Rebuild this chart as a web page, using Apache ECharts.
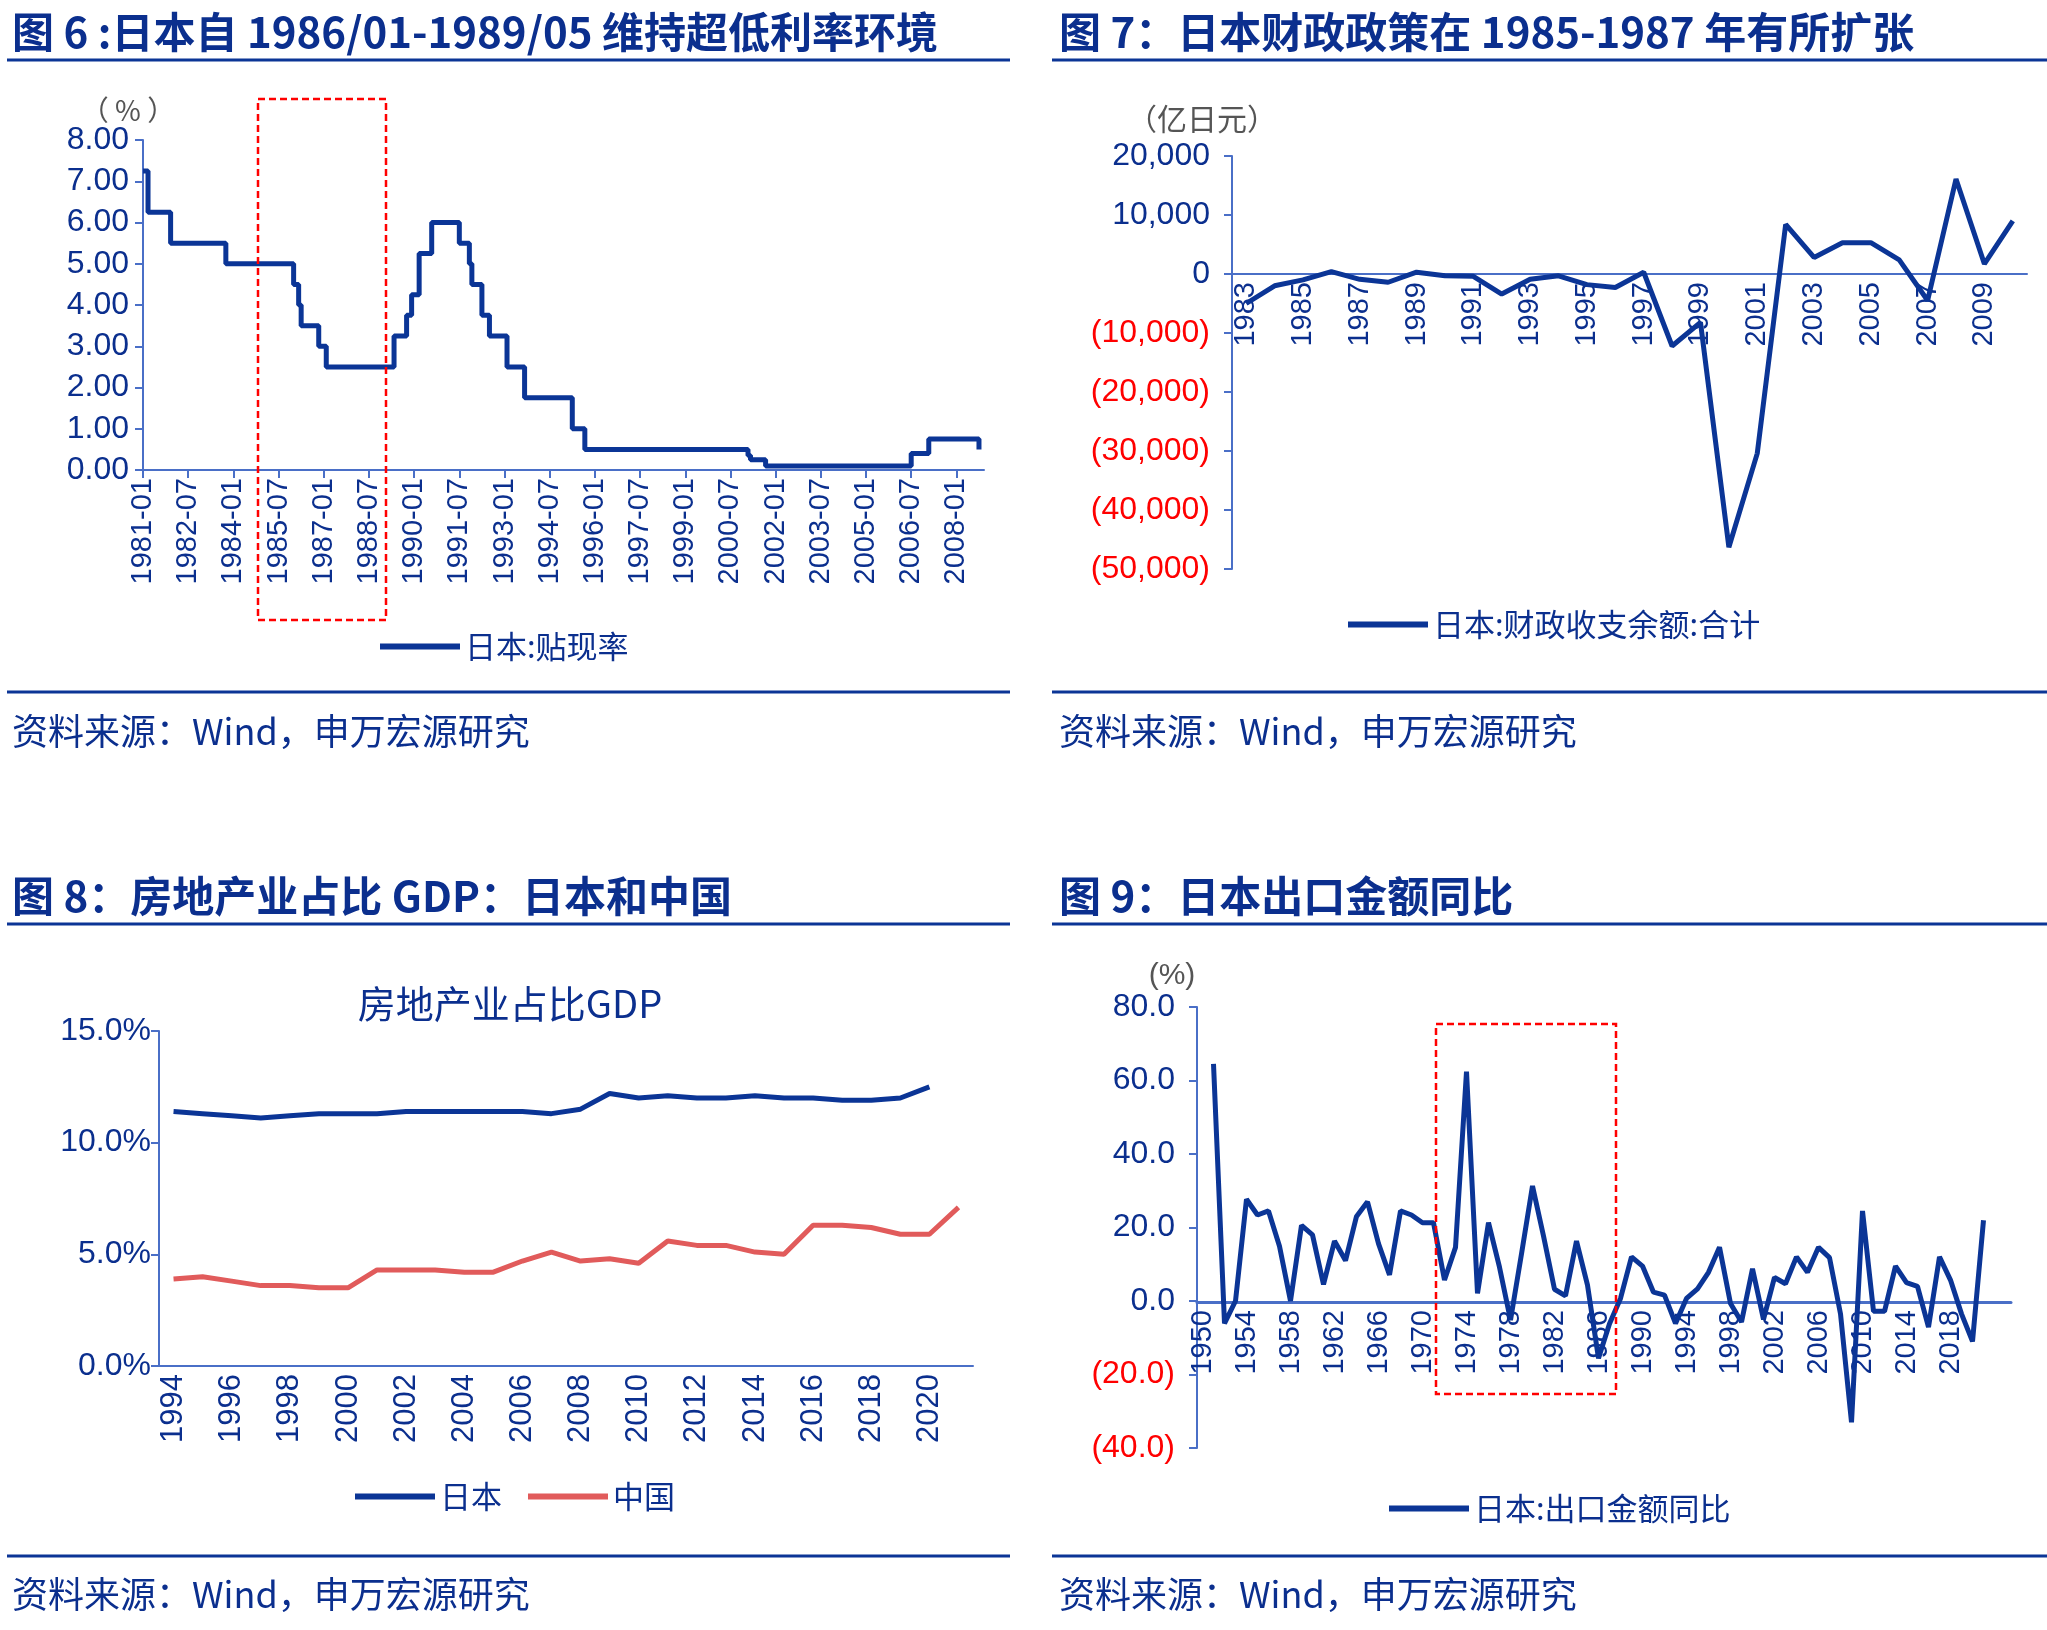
<!DOCTYPE html>
<html>
<head>
<meta charset="utf-8">
<script src="https://cdn.jsdelivr.net/npm/echarts@6/dist/echarts.min.js"></script>
<style>
  html, body { margin: 0; padding: 0; background: #fff; }
  #main { width: 2047px; height: 1630px; }
</style>
</head>
<body>
<div id="main"></div>
<script>
// 图6 贴现率（变动点）
var rateDates = ["1981-01","1981-03","1981-12","1983-10","1986-01","1986-03","1986-04","1986-11","1987-02",
  "1989-05","1989-10","1989-12","1990-03","1990-08","1991-07","1991-11","1991-12","1992-04","1992-07",
  "1993-02","1993-09","1995-04","1995-09","2001-02","2001-03","2001-09","2006-07","2007-02","2008-10"];
var rateVals = [7.25,6.25,5.5,5.0,4.5,4.0,3.5,3.0,2.5,3.25,3.75,4.25,5.25,6.0,5.5,5.0,4.5,3.75,3.25,
  2.5,1.75,1.0,0.5,0.35,0.25,0.1,0.4,0.75,0.5];

// 图7 财政收支余额
var fiscalYears = ["1983","1984","1985","1986","1987","1988","1989","1990","1991","1992","1993","1994","1995","1996",
  "1997","1998","1999","2000","2001","2002","2003","2004","2005","2006","2007","2008","2009","2010"];
var fiscalVals = [-5000,-2000,-1000,400,-900,-1400,300,-300,-400,-3400,-900,-300,-1800,-2300,
  300,-12200,-8200,-46300,-30400,8400,2800,5300,5300,2400,-4500,16100,1700,9000];

// 图8 房地产业占比GDP
var gdpYears = [];
for (var y = 1994; y <= 2021; y++) gdpYears.push(String(y));
var japanShare = [11.4,11.3,11.2,11.1,11.2,11.3,11.3,11.3,11.4,11.4,11.4,11.4,11.4,11.3,11.5,12.2,12.0,12.1,12.0,12.0,12.1,12.0,12.0,11.9,11.9,12.0,12.5,null];
var chinaShare = [3.9,4.0,3.8,3.6,3.6,3.5,3.5,4.3,4.3,4.3,4.2,4.2,4.7,5.1,4.7,4.8,4.6,5.6,5.4,5.4,5.1,5.0,6.3,6.3,6.2,5.9,5.9,7.1];

// 图9 出口金额同比
var exportYears = [];
for (var y2 = 1950; y2 <= 2023; y2++) exportYears.push(String(y2));
var exportVals = [null,64.5,-6.1,0,27.7,23.4,24.5,14.9,0,20.6,18,4.5,16.3,11,23,27,15.6,7.1,24.5,23.4,21.3,21.3,5.7,14.6,62.4,
  2.1,21.3,9.2,-5.2,12.8,31.3,17.7,3.2,1.4,16.3,4.3,-15.6,-6.2,0.7,12,9.5,2.4,1.6,-6.1,0.7,3.3,7.8,14.6,-0.7,-5.7,8.8,-5,
  6.4,4.7,12,7.8,14.6,11.8,-3.5,-33,24.5,-2.8,-2.8,9.5,5,4,-7.1,12,5.7,-3.5,-11,22,null,null];

var months = [];
for (var yy = 1981; yy <= 2008; yy++) {
  for (var m = 1; m <= 12; m++) {
    var s = yy + "-" + (m < 10 ? "0" + m : m);
    months.push(s);
    if (s === "2008-12") break;
  }
}

var DARK = "#0b2f8e";
var AXIS = "#4a6fc7";
var NUM = "'Liberation Sans', Arial, sans-serif";
var NARROW = "'Liberation Sans Narrow', 'Liberation Sans', Arial, sans-serif";
var CJK = "'Noto Sans CJK SC', sans-serif";

function paren(v, dec) {
  var t = Math.abs(v).toFixed(dec).replace(/\B(?=(\d{3})+(?!\d))/g, ",");
  return v < 0 ? "{neg|(" + t + ")}" : t;
}

var legendBase = { itemWidth: 80, itemHeight: 6, icon: "rect", textStyle: { fontSize: 31, color: DARK, fontFamily: CJK } };
function legendAt(names, left, top, gap) {
  return Object.assign({ data: names, left: left, top: top, itemGap: gap || 10 }, legendBase);
}

var chart = echarts.init(document.getElementById("main"));
var option = {
  backgroundColor: "#fff",
  animation: false,
  textStyle: { fontFamily: NUM },
  grid: [
    { left: 143, top: 140, right: 1063, bottom: 1160 },
    { left: 1232, top: 156, right: 20, bottom: 1061 },
    { left: 159, top: 1031, right: 1074, bottom: 264 },
    { left: 1197, top: 1007, right: 36, bottom: 182 }
  ],
  xAxis: [
    {
      gridIndex: 0, type: "category", data: months, boundaryGap: false,
      axisLine: { lineStyle: { color: AXIS, width: 2 } },
      axisTick: { interval: 17, length: 8, lineStyle: { color: AXIS, width: 2 } },
      axisLabel: { interval: 17, rotate: 90, fontSize: 29, color: DARK, fontFamily: NUM }
    },
    {
      gridIndex: 1, type: "category", data: fiscalYears, offset: -295,
      axisLine: { onZero: false, lineStyle: { color: AXIS, width: 2 } },
      axisTick: { interval: 1, length: 8, lineStyle: { color: AXIS, width: 2 } },
      axisLabel: { interval: 1, rotate: 90, fontSize: 29, color: DARK, fontFamily: NUM }
    },
    {
      gridIndex: 2, type: "category", data: gdpYears,
      axisLine: { lineStyle: { color: AXIS, width: 2 } },
      axisTick: { interval: 1, length: 8, lineStyle: { color: AXIS, width: 2 } },
      axisLabel: { interval: 1, rotate: 90, fontSize: 31, color: DARK, fontFamily: NUM }
    },
    {
      gridIndex: 3, type: "category", data: exportYears, offset: -146,
      axisLine: { onZero: false, lineStyle: { color: AXIS, width: 3 } },
      axisTick: { interval: 0, length: 7, lineStyle: { color: AXIS, width: 2 } },
      axisLabel: {
        rotate: 90, fontSize: 29, color: DARK, fontFamily: NUM,
        interval: function (i, v) { return i % 4 === 0 && +v <= 2018; }
      }
    }
  ],
  yAxis: [
    {
      gridIndex: 0, type: "value", min: 0, max: 8, interval: 1,
      name: "（ % ）", nameGap: 14, nameTextStyle: { color: "#555", fontSize: 28, fontFamily: CJK, align: "center", padding: [0, 30, 0, 0] },
      axisLine: { show: true, lineStyle: { color: AXIS, width: 2 } },
      axisTick: { show: true, inside: false, length: 8, lineStyle: { color: AXIS, width: 2 } },
      splitLine: { show: false },
      axisLabel: { fontSize: 32, margin: 14, color: DARK, fontFamily: NARROW, formatter: function (v) { return v.toFixed(2); } }
    },
    {
      gridIndex: 1, type: "value", min: -50000, max: 20000, interval: 10000,
      name: "（亿日元）", nameGap: 22, nameTextStyle: { color: "#555", fontSize: 30, fontFamily: CJK, align: "center", padding: [0, 60, 0, 0] },
      axisLine: { show: true, onZero: false, lineStyle: { color: AXIS, width: 2 } },
      axisTick: { show: true, length: 8, lineStyle: { color: AXIS, width: 2 } },
      splitLine: { show: false },
      axisLabel: {
        fontSize: 32, color: DARK, fontFamily: NARROW, margin: 22,
        formatter: function (v) { return paren(v, 0); },
        rich: { neg: { color: "#ff0000", fontSize: 32, fontFamily: NARROW } }
      }
    },
    {
      gridIndex: 2, type: "value", min: 0, max: 15, interval: 5,
      axisLine: { show: true, lineStyle: { color: AXIS, width: 2 } },
      axisTick: { show: true, length: 8, lineStyle: { color: AXIS, width: 2 } },
      splitLine: { show: false },
      axisLabel: { fontSize: 32, color: DARK, fontFamily: NARROW, formatter: function (v) { return v.toFixed(1) + "%"; } }
    },
    {
      gridIndex: 3, type: "value", min: -40, max: 80, interval: 20,
      name: "(%)", nameGap: 16, nameTextStyle: { color: "#555", fontSize: 30, fontFamily: NARROW, align: "center", padding: [0, 50, 0, 0] },
      axisLine: { show: true, onZero: false, lineStyle: { color: AXIS, width: 2 } },
      axisTick: { show: true, length: 8, lineStyle: { color: AXIS, width: 2 } },
      splitLine: { show: false },
      axisLabel: {
        fontSize: 32, color: DARK, fontFamily: NARROW, margin: 22,
        formatter: function (v) { return paren(v, 1); },
        rich: { neg: { color: "#ff0000", fontSize: 32, fontFamily: NARROW } }
      }
    }
  ],
  legend: [
    legendAt(["日本:贴现率"], 375, 626),
    legendAt(["日本:财政收支余额:合计"], 1343, 604),
    legendAt(["日本", "中国"], 350, 1476, 26),
    legendAt(["日本:出口金额同比"], 1384, 1488)
  ],
  series: [
    {
      name: "日本:贴现率", type: "line", xAxisIndex: 0, yAxisIndex: 0, step: "end", symbol: "none",
      lineStyle: { color: "#0b3596", width: 5 }, itemStyle: { color: "#0b3596" },
      data: rateDates.map(function (d, i) { return [d, rateVals[i]]; })
    },
    {
      name: "日本:财政收支余额:合计", type: "line", xAxisIndex: 1, yAxisIndex: 1, symbol: "none",
      lineStyle: { color: "#0b3596", width: 5 }, itemStyle: { color: "#0b3596" }, data: fiscalVals
    },
    {
      name: "日本", type: "line", xAxisIndex: 2, yAxisIndex: 2, symbol: "none",
      lineStyle: { color: "#0b3596", width: 5 }, itemStyle: { color: "#0b3596" }, data: japanShare
    },
    {
      name: "中国", type: "line", xAxisIndex: 2, yAxisIndex: 2, symbol: "none",
      lineStyle: { color: "#e15b5b", width: 5 }, itemStyle: { color: "#e15b5b" }, data: chinaShare
    },
    {
      name: "日本:出口金额同比", type: "line", xAxisIndex: 3, yAxisIndex: 3, symbol: "none",
      lineStyle: { color: "#0b3596", width: 5 }, itemStyle: { color: "#0b3596" }, data: exportVals
    }
  ],
  title: [
    { text: "图 6 :日本自 1986/01-1989/05 维持超低利率环境", left: 7, top: 6, textStyle: { fontSize: 42, fontWeight: "bold", color: DARK, fontFamily: CJK } },
    { text: "图 7：日本财政政策在 1985-1987 年有所扩张", left: 1054, top: 6, textStyle: { fontSize: 42, fontWeight: "bold", color: DARK, fontFamily: CJK } },
    { text: "图 8：房地产业占比 GDP：日本和中国", left: 7, top: 870, textStyle: { fontSize: 42, fontWeight: "bold", color: DARK, fontFamily: CJK } },
    { text: "图 9：日本出口金额同比", left: 1054, top: 870, textStyle: { fontSize: 42, fontWeight: "bold", color: DARK, fontFamily: CJK } },
    { text: "房地产业占比GDP", left: 505, top: 980, textAlign: "center", textStyle: { fontSize: 38, fontWeight: "normal", color: DARK, fontFamily: CJK } },
    { text: "资料来源：Wind，申万宏源研究", left: 7, top: 708, textStyle: { fontSize: 36, fontWeight: "normal", color: DARK, fontFamily: CJK } },
    { text: "资料来源：Wind，申万宏源研究", left: 1054, top: 708, textStyle: { fontSize: 36, fontWeight: "normal", color: DARK, fontFamily: CJK } },
    { text: "资料来源：Wind，申万宏源研究", left: 7, top: 1571, textStyle: { fontSize: 36, fontWeight: "normal", color: DARK, fontFamily: CJK } },
    { text: "资料来源：Wind，申万宏源研究", left: 1054, top: 1571, textStyle: { fontSize: 36, fontWeight: "normal", color: DARK, fontFamily: CJK } }
  ],
  graphic: [
    // 标题线与底线
    { type: "line", shape: { x1: 7, y1: 60, x2: 1010, y2: 60 }, style: { stroke: "#0b3596", lineWidth: 3 } },
    { type: "line", shape: { x1: 1052, y1: 60, x2: 2047, y2: 60 }, style: { stroke: "#0b3596", lineWidth: 3 } },
    { type: "line", shape: { x1: 7, y1: 692, x2: 1010, y2: 692 }, style: { stroke: "#0b3596", lineWidth: 3 } },
    { type: "line", shape: { x1: 1052, y1: 692, x2: 2047, y2: 692 }, style: { stroke: "#0b3596", lineWidth: 3 } },
    { type: "line", shape: { x1: 7, y1: 924, x2: 1010, y2: 924 }, style: { stroke: "#0b3596", lineWidth: 3 } },
    { type: "line", shape: { x1: 1052, y1: 924, x2: 2047, y2: 924 }, style: { stroke: "#0b3596", lineWidth: 3 } },
    { type: "line", shape: { x1: 7, y1: 1556, x2: 1010, y2: 1556 }, style: { stroke: "#0b3596", lineWidth: 3 } },
    { type: "line", shape: { x1: 1052, y1: 1556, x2: 2047, y2: 1556 }, style: { stroke: "#0b3596", lineWidth: 3 } },
    // 红色虚线框
    { type: "rect", z: 100, shape: { x: 258, y: 99, width: 128, height: 521 }, style: { fill: "none", stroke: "#ff0000", lineWidth: 2.5, lineDash: [7, 4] } },
    { type: "rect", z: 100, shape: { x: 1436, y: 1024, width: 180, height: 370 }, style: { fill: "none", stroke: "#ff0000", lineWidth: 2.5, lineDash: [7, 4] } }
  ]
};
chart.setOption(option);
</script>
</body>
</html>
